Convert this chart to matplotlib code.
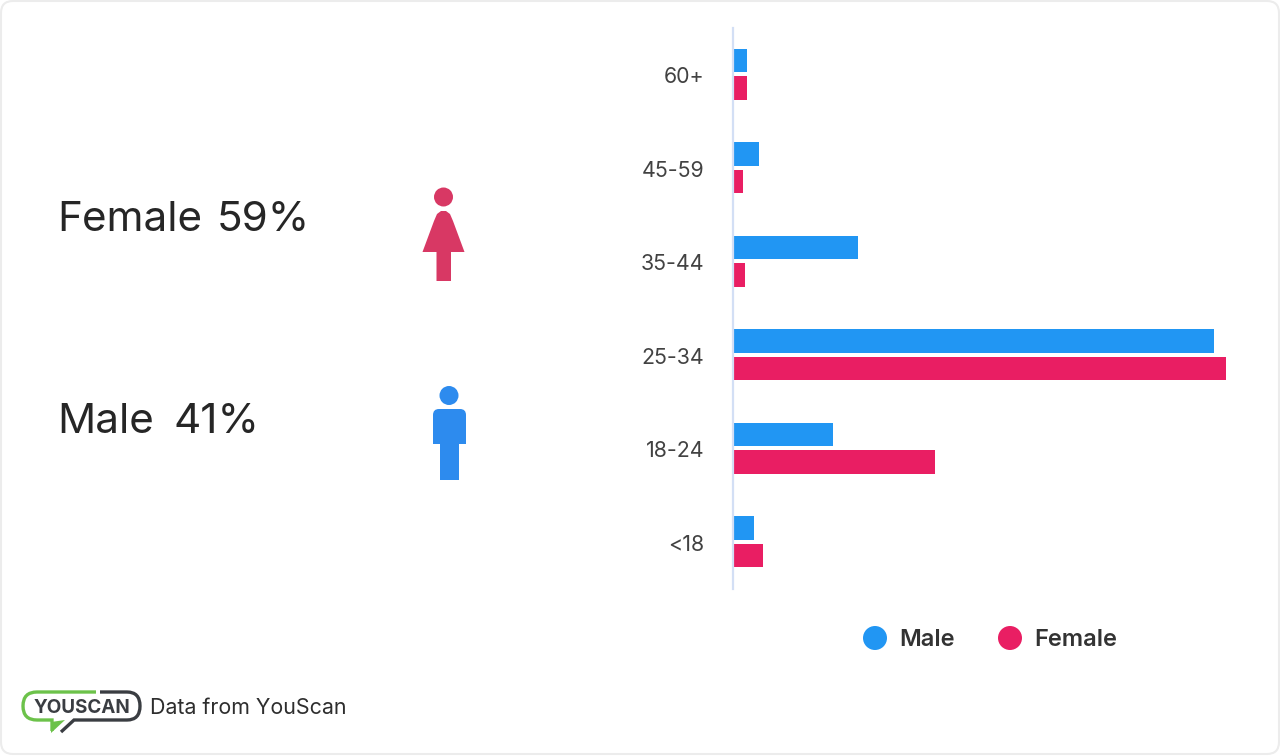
import matplotlib
matplotlib.use("Agg")
import matplotlib.pyplot as plt
from matplotlib.patches import Circle, FancyBboxPatch, Polygon, Rectangle, PathPatch
from matplotlib.path import Path
from matplotlib.transforms import ScaledTranslation

plt.rcParams["font.family"] = ["Inter", "DejaVu Sans"]

# Age groups, top to bottom (% share)
age_groups = ["60+", "45-59", "35-44", "25-34", "18-24", "<18"]
male_share = [1.8, 3.4, 16.5, 63.3, 13.2, 2.8]
female_share = [1.8, 1.3, 1.6, 64.9, 26.6, 3.9]

gender_names = ["Female", "Male"]
gender_pcts = ["59%", "41%"]

BLUE = "#2196f3"
PINK = "#e91e63"
ICON_PINK = "#d83864"
ICON_BLUE = "#2d8bee"
W, H = 1280, 756

fig = plt.figure(figsize=(W / 100, H / 100), dpi=100, facecolor="white")

# Overlay in pixel coordinates for the card, icons and logo
bg = fig.add_axes([0, 0, 1, 1])
bg.set_xlim(0, W)
bg.set_ylim(H, 0)
bg.axis("off")
bg.add_patch(FancyBboxPatch((1, 1), W - 2, H - 3, boxstyle="round,pad=0,rounding_size=12",
                            fc="white", ec="#ececec", lw=1.5))

# Bar chart
ax = fig.add_axes([733 / W, 1 - 588.5 / H, 500 / W, 561 / H])
ax.patch.set_alpha(0)
y = list(range(len(age_groups)))
bar_h = 0.252
ax.barh([i - 0.145 for i in y], male_share, height=bar_h, color=BLUE, label="Male")
ax.barh([i + 0.145 for i in y], female_share, height=bar_h, color=PINK, label="Female")
ax.set_xlim(0, 500 / 7.6)
ax.set_ylim(len(age_groups) - 0.5, -0.5)
ax.set_yticks(y, age_groups)
ax.set_xticks([])
ax.tick_params(axis="y", length=0, pad=20.5, labelsize=15.4, labelcolor="#424242")
# tick labels sit about a pixel lower than the matplotlib default
for lab in ax.get_yticklabels():
    lab.set_transform(lab.get_transform() + ScaledTranslation(0, -1.2 / 100, fig.dpi_scale_trans))
for side in ["top", "right", "bottom"]:
    ax.spines[side].set_visible(False)
ax.spines["left"].set_color("#d3dff5")
ax.spines["left"].set_linewidth(1.6)

# Legend drawn by hand so the markers sit where they do in the card
bg.add_patch(Circle((875, 638), 12, fc=BLUE, ec="none"))
bg.text(899, 640, "Male", fontsize=17, fontweight="semibold", color="#333333", va="center")
bg.add_patch(Circle((1010, 638), 12, fc=PINK, ec="none"))
bg.text(1034, 640, "Female", fontsize=17, fontweight="semibold", color="#333333", va="center")

# Headline figures
bg.text(57, 220, gender_names[0], fontsize=30.4, color="#262626", va="center")
bg.text(217, 220, gender_pcts[0], fontsize=30.4, color="#262626", va="center")
bg.text(57, 422, gender_names[1], fontsize=30.4, color="#262626", va="center")
bg.text(173, 422, gender_pcts[1], fontsize=30.4, color="#262626", va="center")

# Female icon
bg.add_patch(Circle((443.5, 197), 9.5, fc=ICON_PINK, ec="none"))
bg.add_patch(Polygon([(422.5, 252), (434, 221), (437, 214), (441, 211), (446, 211), (450, 214),
                      (453, 221), (464.5, 252), (451, 252), (451, 281), (436.5, 281), (436.5, 252)],
                     closed=True, fc=ICON_PINK, ec="none"))

# Male icon
bg.add_patch(Circle((449, 395.5), 9.5, fc=ICON_BLUE, ec="none"))
bg.add_patch(FancyBboxPatch((433, 409), 33, 35, boxstyle="round,pad=0,rounding_size=6",
                            fc=ICON_BLUE, ec="none"))
bg.add_patch(Rectangle((433, 430), 33, 14, fc=ICON_BLUE, ec="none"))
bg.add_patch(Rectangle((440, 440), 19, 39.5, fc=ICON_BLUE, ec="none"))

# YouScan logo: speech bubble, green left half and dark right half
LOGO_GREEN = "#6cc24a"
LOGO_DARK = "#3a3d42"
green = Path([(96, 692), (37, 692), (23, 692), (23, 706), (23, 720), (37, 720), (52, 720),
              (52, 731)],
             [Path.MOVETO, Path.LINETO, Path.CURVE3, Path.CURVE3, Path.CURVE3, Path.CURVE3,
              Path.LINETO, Path.LINETO])
bg.add_patch(PathPatch(green, fc="none", ec=LOGO_GREEN, lw=2.4))
bg.add_patch(Polygon([(51, 722), (51, 733), (65, 720)], closed=True, fc=LOGO_GREEN, ec="none"))
dark = Path([(100, 692), (127, 692), (140, 692), (140, 706), (140, 720), (127, 720), (74, 720),
             (61, 732)],
            [Path.MOVETO, Path.LINETO, Path.CURVE3, Path.CURVE3, Path.CURVE3, Path.CURVE3,
             Path.LINETO, Path.LINETO])
bg.add_patch(PathPatch(dark, fc="none", ec=LOGO_DARK, lw=2.4))
bg.text(82, 708, "YOUSCAN", fontsize=13.6, fontweight="bold", color=LOGO_DARK,
        ha="center", va="center")
bg.text(149.5, 708, "Data from YouScan", fontsize=15.4, color="#2e2e2e", va="center")

fig.savefig("out.png", dpi=100)
